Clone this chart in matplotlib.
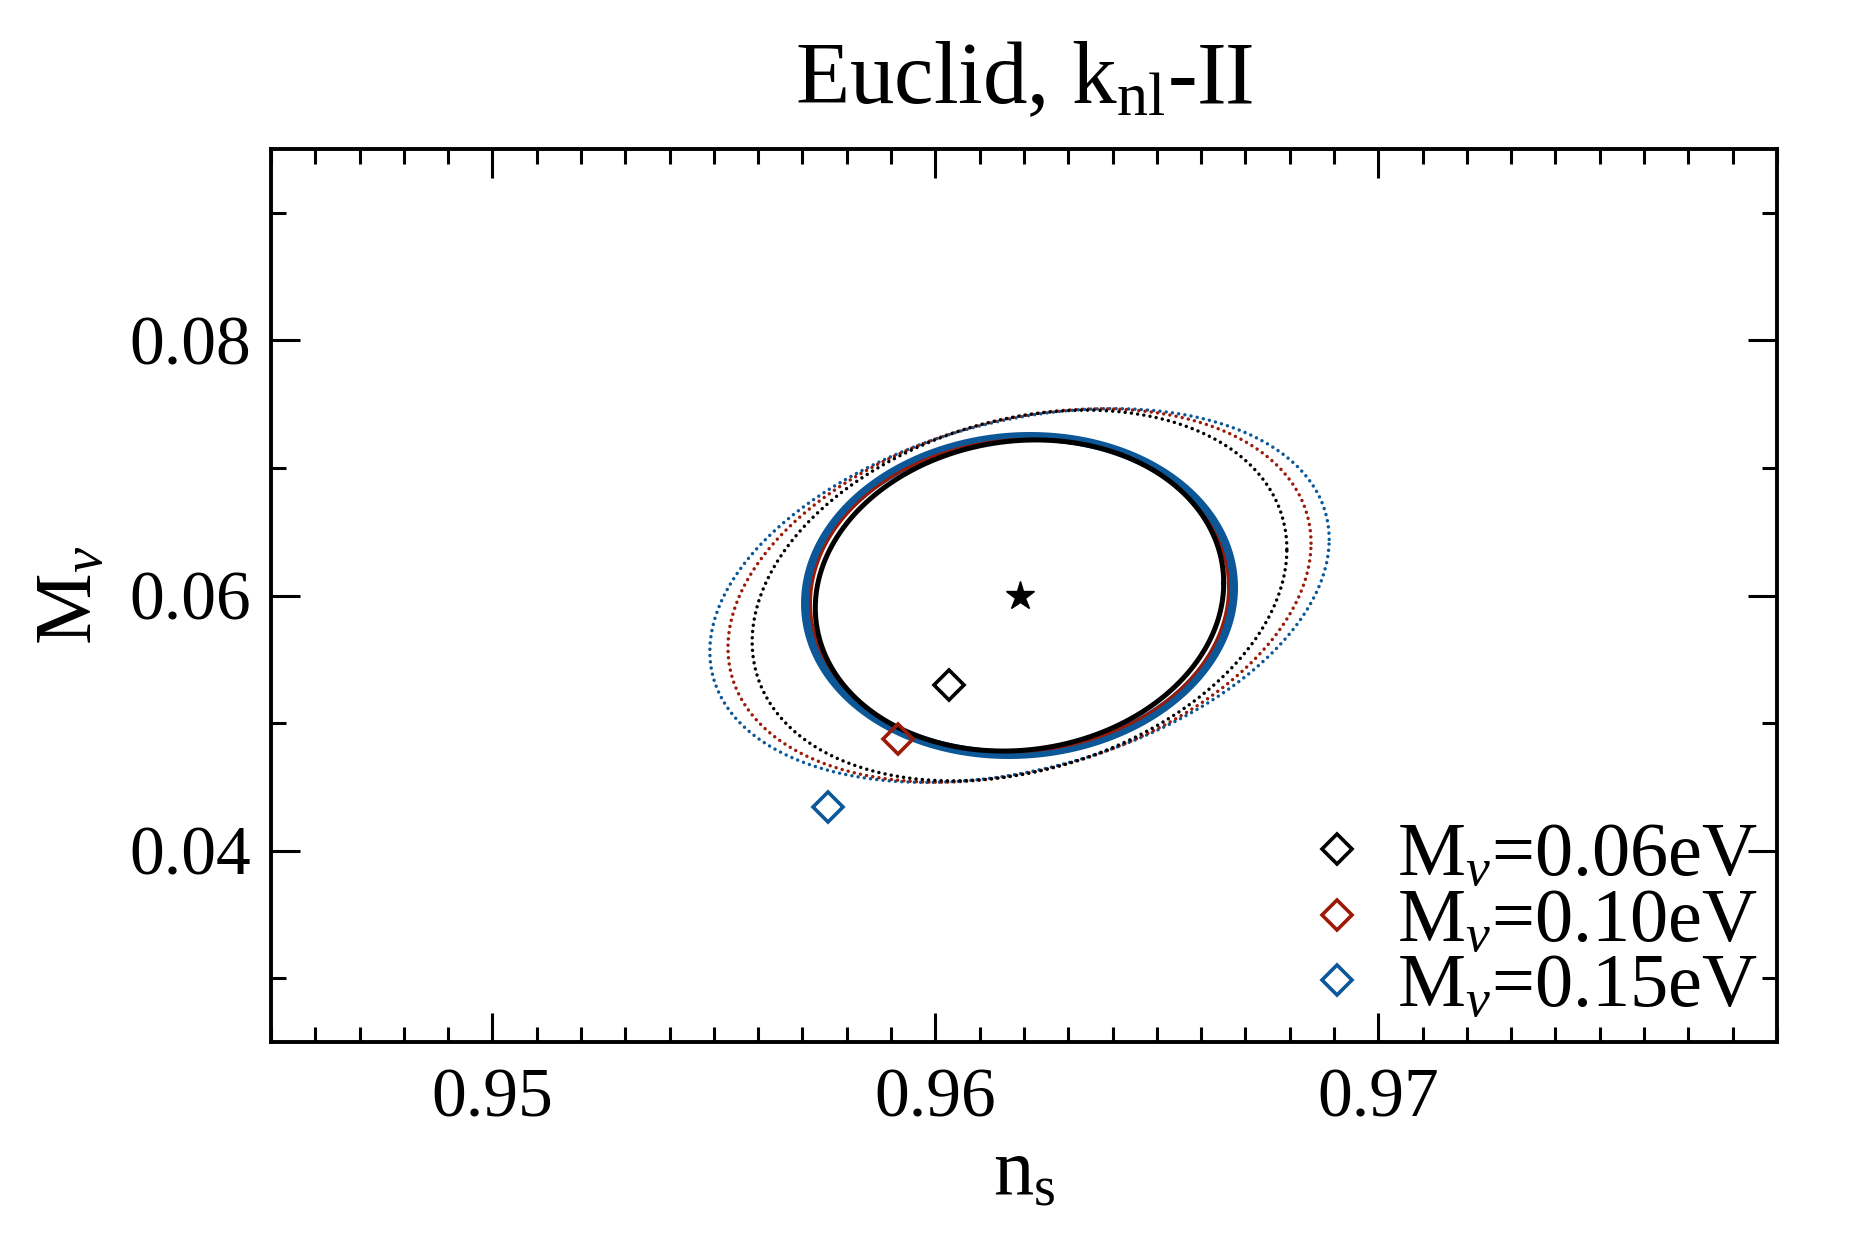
import numpy as np
import matplotlib
matplotlib.use("Agg")
import matplotlib.pyplot as plt
from matplotlib.ticker import MultipleLocator

plt.rcParams['font.family'] = ['Liberation Serif', 'DejaVu Serif']
plt.rcParams['mathtext.fontset'] = 'custom'
plt.rcParams['mathtext.rm'] = 'Liberation Serif'
plt.rcParams['mathtext.it'] = 'Liberation Serif:italic'

# fiducial point
ns_fid = 0.9619
mnu_fid = 0.06

# three neutrino mass cases
labels = [r"M$_\nu$=0.06eV", r"M$_\nu$=0.10eV", r"M$_\nu$=0.15eV"]
colors = ['black', '#9b1a08', '#0b5797']

# shifted best fit (open diamonds)
shift_ns = [0.96030, 0.95915, 0.95758]
shift_mnu = [0.05302, 0.04876, 0.04345]

# 1-sigma errors and correlation, solid contours
sig_ns_solid = [0.00304, 0.00311, 0.00318]
sig_mnu_solid = [0.00804, 0.00808, 0.00820]
rho_solid = [0.08, 0.05, 0.05]

# 1-sigma errors and correlation, dotted contours
sig_ns_dot = [0.00398, 0.00434, 0.00461]
sig_mnu_dot = [0.00958, 0.00965, 0.00966]
rho_dot = [0.25, 0.28, 0.30]

# 68% for two parameters
alpha = np.sqrt(2.30)


def ellipse(sx, sy, rho):
    cov = np.array([[sx**2, rho*sx*sy], [rho*sx*sy, sy**2]])
    L = np.linalg.cholesky(cov)
    t = np.linspace(0, 2*np.pi, 400)
    pts = alpha * L @ np.vstack([np.cos(t), np.sin(t)])
    return ns_fid + pts[0], mnu_fid + pts[1]


fig = plt.figure(figsize=(18.75, 12.5), dpi=100)
ax = fig.add_axes([0.1445, 0.1664, 0.8032, 0.7144])

# dotted contours
for i in [2, 1, 0]:
    x, y = ellipse(sig_ns_dot[i], sig_mnu_dot[i], rho_dot[i])
    ax.plot(x, y, color=colors[i], lw=2.5, linestyle=(0, (0.01, 1.8)),
            dash_capstyle='round')

# solid contours
solid_lw = [3.6, 2.0, 7.0]
for i in [2, 1, 0]:
    x, y = ellipse(sig_ns_solid[i], sig_mnu_solid[i], rho_solid[i])
    ax.plot(x, y, color=colors[i], lw=solid_lw[i], solid_capstyle='round')

# fiducial
ax.plot(ns_fid, mnu_fid, '*', color='black', ms=21)

# shifted points
for i in range(3):
    ax.plot(shift_ns[i], shift_mnu[i], 'D', mfc='none', mec=colors[i],
            mew=2.6, ms=15, label=labels[i])

ax.set_xlim(0.945, 0.979)
ax.set_ylim(0.025, 0.095)
ax.xaxis.set_major_locator(MultipleLocator(0.01))
ax.xaxis.set_minor_locator(MultipleLocator(0.001))
ax.yaxis.set_major_locator(MultipleLocator(0.02))
ax.yaxis.set_minor_locator(MultipleLocator(0.01))

ax.tick_params(which='both', direction='in', top=True, right=True, width=2.2)
ax.tick_params(which='major', length=21, labelsize=50)
ax.tick_params(axis='x', which='major', pad=19)
ax.tick_params(axis='y', which='major', pad=14)
ax.tick_params(which='minor', length=10.5)
for s in ax.spines.values():
    s.set_linewidth(2.8)

ax.set_xlabel(r"n$_{\rm s}$", fontsize=58, labelpad=5)
ax.set_ylabel(r"M$_\nu$", fontsize=58, labelpad=15)
ax.set_title(r"Euclid, k$_{\rm nl}$-II", fontsize=64, pad=33)

ax.legend(loc='lower right', frameon=False, fontsize=55, numpoints=1,
          handlelength=0.6, handletextpad=0.48, labelspacing=-0.05,
          borderaxespad=0.1, borderpad=0.15)

fig.savefig('out.png', dpi=100)
